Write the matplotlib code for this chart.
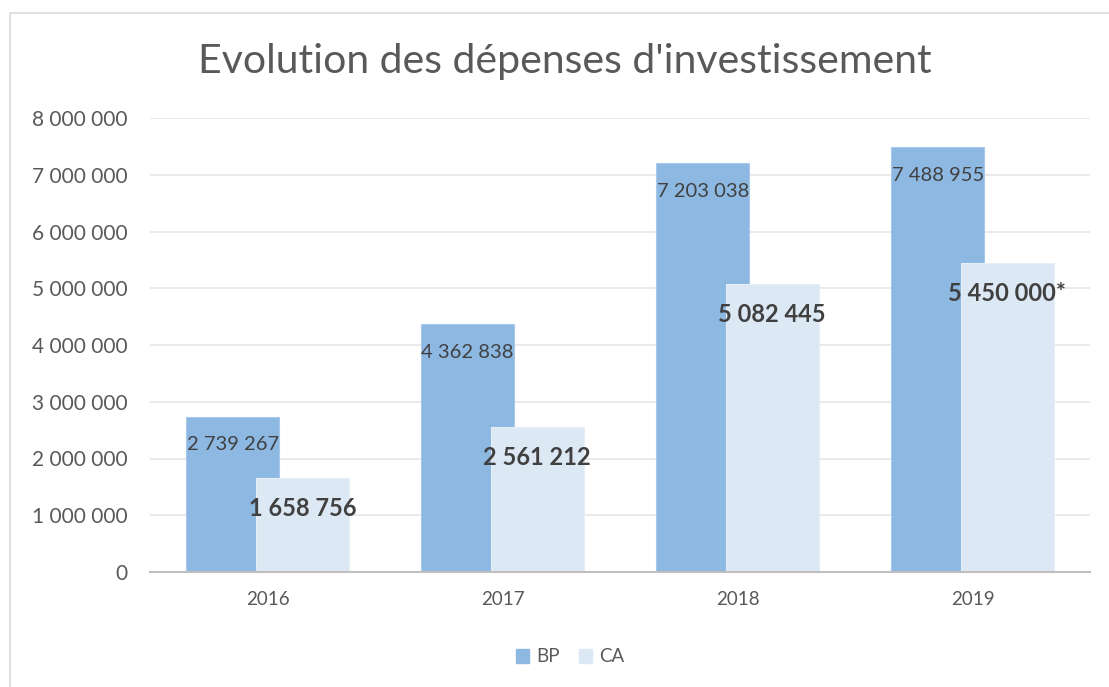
import matplotlib.pyplot as plt
import matplotlib.patches as mpatches
import numpy as np

years = ["2016", "2017", "2018", "2019"]
bp = [2739267, 4362838, 7203038, 7488955]
ca = [1658756, 2561212, 5082445, 5450000]
ca_labels = ["1 658 756", "2 561 212", "5 082 445", "5 450 000*"]

plt.rcParams['font.family'] = ['Lato', 'DejaVu Sans']


def fmt(v):
    return "{:,}".format(int(v)).replace(",", " ")


fig = plt.figure(figsize=(11.09, 6.87), dpi=100)
# chart border
fig.patches.append(mpatches.Rectangle((10 / 1109, -0.05), 1.1, 1 - 13 / 687 + 0.05,
                                      transform=fig.transFigure, fill=False,
                                      edgecolor="#d9d9d9", linewidth=1.2))

ax = fig.add_axes([150 / 1109, 1 - 572 / 687, 940 / 1109, 454 / 687])
x = np.arange(len(years))
w = 0.396
bp_color = "#8db8e2"
ca_color = "#dde8f5"

ax.bar(x - 0.148, bp, w, color=bp_color, edgecolor="#a9c9ea", linewidth=0.8, zorder=2)
ax.bar(x + 0.148, ca, w, color=ca_color, edgecolor="#e6eef8", linewidth=0.8, zorder=3)

for i in range(len(years)):
    ax.annotate(fmt(bp[i]), (x[i] - 0.148, bp[i]), xytext=(0, -28), textcoords='offset pixels',
                ha='center', va='center', fontsize=14.5, color="#404040", zorder=4)
    ax.annotate(ca_labels[i], (x[i] + 0.148, ca[i]), xytext=(0, -31), textcoords='offset pixels',
                ha='center', va='center', fontsize=17, fontweight='bold', color="#404040", zorder=4)

ax.set_xlim(-0.5, 3.5)
ax.set_ylim(0, 8000000)
ax.set_yticks(np.arange(0, 8000001, 1000000))
ax.set_yticklabels([fmt(v) for v in np.arange(0, 8000001, 1000000)])
ax.set_xticks(x)
ax.set_xticklabels(years)
ax.tick_params(axis='y', length=0, labelsize=15, labelcolor="#595959", pad=16)
ax.tick_params(axis='x', length=0, labelsize=13.5, labelcolor="#595959", pad=14)
ax.grid(axis='y', color="#e6e6e6", linewidth=1.2, zorder=0)
ax.set_axisbelow(True)
for s in ["top", "right", "left"]:
    ax.spines[s].set_visible(False)
ax.spines["bottom"].set_color("#bfbfbf")
ax.spines["bottom"].set_linewidth(1.5)
ax.spines["bottom"].set_zorder(5)

fig.text(565 / 1109, 1 - 61 / 687, "Evolution des dépenses d'investissement",
         ha='center', va='center', fontsize=29.5, color="#595959")

handles = [mpatches.Patch(color=bp_color, label="BP"), mpatches.Patch(color=ca_color, label="CA")]
fig.legend(handles=handles, loc='center', bbox_to_anchor=(570 / 1109, 1 - 657 / 687), ncol=2,
           frameon=False, fontsize=13.5, handlelength=0.7, handleheight=0.7, handletextpad=0.4,
           columnspacing=1.0, labelcolor="#595959")

fig.savefig("out.png", dpi=100)
